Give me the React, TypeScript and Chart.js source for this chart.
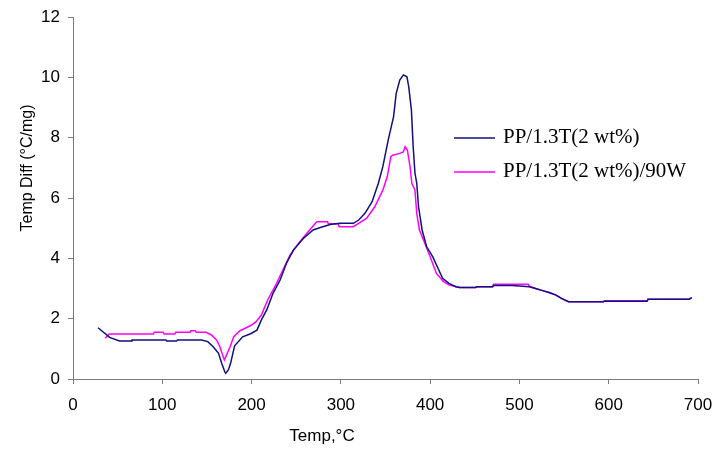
import React, { useEffect, useRef } from "react";
import { Chart, registerables } from "chart.js";

Chart.register(...registerables);

const seriesLabels = ["PP/1.3T(2 wt%)", "PP/1.3T(2 wt%)/90W"];
const seriesColors = ["#10107e", "#ff00ff"];
const xTitle = "Temp,°C";
const yTitle = "Temp Diff (°C/mg)";
const xTickValues = [0, 100, 200, 300, 400, 500, 600, 700];
const yTickValues = [0, 2, 4, 6, 8, 10, 12];

const ppTemp = [
  28, 41, 52, 65, 66, 104, 105, 116, 117, 144, 151, 157, 163, 166.5, 170, 171, 174, 176.5, 181, 190,
  199, 206, 211, 217, 224, 232, 239, 247, 258, 269, 277, 288, 299, 314, 320, 327, 335, 342, 347, 353,
  359, 362, 366, 370, 374, 376, 379, 381, 383, 385, 387, 391, 396, 403, 408, 414, 421, 429, 433, 451,
  452, 470, 471, 492, 511, 518, 526, 534, 541, 547, 555, 594, 595, 643, 644, 690, 693,
];
const ppDiff = [
  1.7, 1.38, 1.26, 1.26, 1.29, 1.29, 1.26, 1.26, 1.29, 1.29, 1.24, 1.07, 0.85, 0.52, 0.24, 0.19, 0.3, 0.52, 1.1, 1.4,
  1.5, 1.62, 1.96, 2.29, 2.84, 3.28, 3.83, 4.28, 4.66, 4.94, 5.02, 5.12, 5.16, 5.16, 5.27, 5.49, 5.88, 6.49, 7.04, 7.92,
  8.69, 9.47, 9.91, 10.08, 10.02, 9.69, 8.92, 7.7, 6.82, 6.49, 5.71, 4.94, 4.39, 4.05, 3.72, 3.34, 3.17, 3.06, 3.03, 3.03,
  3.06, 3.06, 3.1, 3.1, 3.06, 3.0, 2.93, 2.86, 2.78, 2.67, 2.56, 2.56, 2.58, 2.58, 2.64, 2.64, 2.7,
];

const pp90Temp = [
  36, 40.5, 90, 91, 101, 102, 114, 115, 131, 132, 137, 138, 149, 155, 161, 164.5, 167.5, 169.5, 172, 176,
  180, 187, 194, 200, 205, 211, 218, 228, 236, 243, 254, 265, 273, 285, 286, 297, 298, 314, 329, 338,
  347, 352, 356, 358, 366, 370, 372, 374.5, 377.5, 379.5, 383, 385, 388, 394, 400, 407, 415, 421, 429, 433,
  451, 452, 470, 471, 510, 511, 518, 526, 534, 541, 547, 555, 594, 595, 643, 644, 690, 693,
];
const pp90Diff = [
  1.35, 1.49, 1.49, 1.55, 1.55, 1.49, 1.49, 1.55, 1.55, 1.6, 1.6, 1.55, 1.55, 1.46, 1.29, 1.07, 0.8, 0.63, 0.8, 1.07,
  1.4, 1.6, 1.7, 1.79, 1.9, 2.12, 2.62, 3.17, 3.67, 4.11, 4.55, 4.94, 5.21, 5.21, 5.15, 5.15, 5.05, 5.05, 5.33, 5.71,
  6.26, 6.71, 7.37, 7.42, 7.48, 7.53, 7.7, 7.59, 7.04, 6.49, 6.26, 5.49, 4.94, 4.5, 4.05, 3.5, 3.23, 3.12, 3.06, 3.03,
  3.03, 3.06, 3.06, 3.14, 3.14, 3.08, 3.0, 2.93, 2.86, 2.78, 2.67, 2.56, 2.56, 2.59, 2.59, 2.64, 2.64, 2.7,
];

const toPoints = (xs: number[], ys: number[]) => xs.map((x, i) => ({ x, y: ys[i] }));

const overlay = {
  id: "overlay",
  afterDraw(chart: any) {
    const ctx = chart.ctx as CanvasRenderingContext2D;
    ctx.save();
    chart.data.datasets.forEach((ds: any, i: number) => {
      const y = 138 + i * 34;
      ctx.strokeStyle = ds.borderColor;
      ctx.lineWidth = 1.5;
      ctx.beginPath();
      ctx.moveTo(454, y);
      ctx.lineTo(495, y);
      ctx.stroke();
      ctx.fillStyle = "#000";
      ctx.font = '21px "Liberation Serif"';
      ctx.textAlign = "left";
      ctx.textBaseline = "alphabetic";
      ctx.fillText(ds.label, 503, y + 5);
    });
    ctx.font = '17px "Liberation Sans"';
    ctx.fillStyle = "#000";
    ctx.textAlign = "center";
    ctx.textBaseline = "middle";
    ctx.fillText(xTitle, 322, 436);
    ctx.translate(28, 168);
    ctx.rotate(-Math.PI / 2);
    ctx.font = '16px "Liberation Sans"';
    ctx.fillText(yTitle, 0, 0);
    ctx.restore();
  },
};

export default function App() {
  const ref = useRef<HTMLCanvasElement | null>(null);
  useEffect(() => {
    if (!ref.current) return;
    const axisColor = "#7a7a7a";
    const chart = new Chart(ref.current, {
      type: "line",
      data: {
        datasets: [
          {
            label: seriesLabels[0],
            data: toPoints(ppTemp, ppDiff),
            borderColor: seriesColors[0],
            borderWidth: 1.5,
            pointRadius: 0,
            tension: 0,
            fill: false,
          },
          {
            label: seriesLabels[1],
            data: toPoints(pp90Temp, pp90Diff),
            borderColor: seriesColors[1],
            borderWidth: 1.5,
            pointRadius: 0,
            tension: 0,
            fill: false,
          },
        ],
      },
      options: {
        responsive: false,
        animation: false,
        devicePixelRatio: 1,
        layout: { padding: { top: 17, right: 20, left: 0, bottom: 0 } },
        plugins: { legend: { display: false }, tooltip: { enabled: false } },
        scales: {
          x: {
            type: "linear",
            min: 0,
            max: 700,
            afterBuildTicks: (s: any) => {
              s.ticks = xTickValues.map((v) => ({ value: v }));
            },
            afterFit: (s: any) => {
              s.height = 70;
              s.paddingLeft = 0;
              s.paddingRight = 0;
            },
            grid: { display: true, drawOnChartArea: false, drawTicks: true, tickLength: 5, color: axisColor },
            border: { color: axisColor, width: 1 },
            ticks: { color: "#000", font: { family: "Liberation Sans", size: 17 }, padding: 11, maxRotation: 0 },
          },
          y: {
            type: "linear",
            min: 0,
            max: 12,
            afterBuildTicks: (s: any) => {
              s.ticks = yTickValues.map((v) => ({ value: v }));
            },
            afterFit: (s: any) => {
              s.width = 73;
              s.paddingTop = 0;
              s.paddingBottom = 0;
            },
            grid: { display: true, drawOnChartArea: false, drawTicks: true, tickLength: 5, color: axisColor },
            border: { color: axisColor, width: 1 },
            ticks: { color: "#000", font: { family: "Liberation Sans", size: 17 }, padding: 8 },
          },
        },
      },
      plugins: [overlay],
    });
    return () => chart.destroy();
  }, []);
  return (
    <canvas
      ref={ref}
      width={718}
      height={449}
      style={{ position: "absolute", left: 0, top: 0, display: "block" }}
    />
  );
}
